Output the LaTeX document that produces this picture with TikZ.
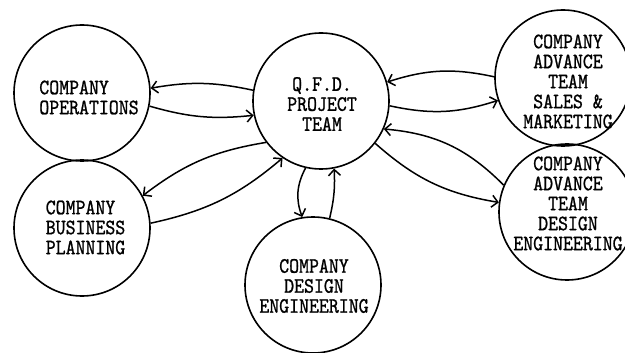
\documentclass[tikz,border=0pt]{standalone}
\usepackage{fontspec}
\newfontfamily\typewriter{lmmono10-regular.otf}[FakeStretch=0.86,FakeBold=1]
\usetikzlibrary{arrows.meta}
\begin{document}
\begin{tikzpicture}[x=1pt,y=1pt,
  unit/.style={circle, draw, line width=1.6pt, minimum size=136pt, inner sep=0pt},
  caption/.style={align=center, inner sep=0pt, font=\typewriter\fontsize{22}{20}\selectfont},
  leftcaption/.style={caption, align=left},
  flow/.style={line width=1.5pt, -{Straight Barb[length=6pt,width=12pt]}},
]
\useasboundingbox (0,0) rectangle (625,-353);

% organisational units
\node[unit] (ops)   at (82,-93)  {};
\node[unit] (bp)    at (82,-228) {};
\node[unit] (qfd)   at (321,-101) {};
\node[unit] (de)    at (313,-285) {};
\node[unit] (sales) at (563,-78) {};
\node[unit] (adv)   at (567,-212) {};

% unit names
\node[leftcaption] (opsT) at (89,-97.5) {COMPANY\\OPERATIONS};
\node[leftcaption] (bpT)  at (85.5,-227.5) {COMPANY\\BUSINESS\\PLANNING};
\node[caption] (qfdT)   at (322,-104) {Q.F.D.\\PROJECT\\TEAM};
\node[caption] (deT)    at (314,-286) {COMPANY\\DESIGN\\ENGINEERING};
\node[caption] (salesT) at (568,-81.5) {COMPANY\\ADVANCE\\TEAM\\SALES \&\\MARKETING};
\node[caption] (advT)   at (568,-203.5) {COMPANY\\ADVANCE\\TEAM\\DESIGN\\ENGINEERING};

% information flows
\draw[flow] (qfd.171) to[bend right=11] (ops.4);
\draw[flow] (ops.-11) to[bend right=11] (qfd.192);
\draw[flow] (qfd.217) to[bend right=14] (bp.28);
\draw[flow] (bp.4)    to[bend right=14] (qfd.236);
\draw[flow] (qfd.257) to[bend right=24] (de.99);
\draw[flow] (de.76)   to[bend right=8]  (qfd.281);
\draw[flow] (qfd.-4)  to[bend right=15] (sales.199);
\draw[flow] (sales.179) to[bend right=15] (qfd.16);
\draw[flow] (adv.157) to[bend right=20] (qfd.-24);
\draw[flow] (qfd.-38) to[bend right=16] (adv.172);
\end{tikzpicture}
\end{document}
